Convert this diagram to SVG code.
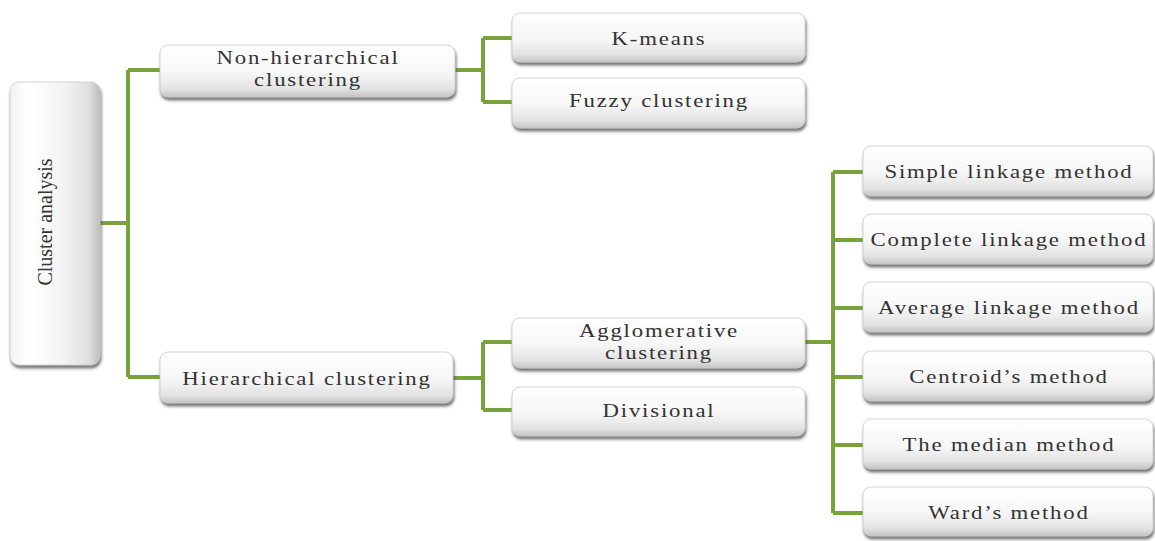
<svg xmlns="http://www.w3.org/2000/svg" width="1155" height="541" viewBox="0 0 1155 541">
<defs>
<linearGradient id="gv" x1="0" y1="0" x2="0" y2="1">
<stop offset="0" stop-color="#ffffff"/>
<stop offset="0.55" stop-color="#f6f6f6"/>
<stop offset="0.85" stop-color="#e2e2e2"/>
<stop offset="1" stop-color="#c4c4c4"/>
</linearGradient>
<linearGradient id="gh" x1="0" y1="0" x2="1" y2="0">
<stop offset="0" stop-color="#f2f2f2"/>
<stop offset="0.2" stop-color="#ffffff"/>
<stop offset="0.6" stop-color="#f3f3f3"/>
<stop offset="0.88" stop-color="#dedede"/>
<stop offset="1" stop-color="#bdbdbd"/>
</linearGradient>
<filter id="sh" x="-10%" y="-20%" width="125%" height="150%">
<feDropShadow dx="1" dy="3" stdDeviation="1.8" flood-color="#444" flood-opacity="0.75"/>
</filter>
</defs>
<style>
.box{fill:url(#gv);stroke:#c9c9c9;stroke-width:0.8;filter:url(#sh)}
.vbox{fill:url(#gh);stroke:#c9c9c9;stroke-width:0.8;filter:url(#sh)}
.c{fill:none;stroke:#78a33c;stroke-width:4}
</style>
<rect width="1155" height="541" fill="#fff"/>
<g id="connectors">
<path class="c" d="M100 223H128M128 70V377M128 70H160M128 377H160"/>
<path class="c" d="M455 70H483M483 38V102M483 38H512M483 102H512"/>
<path class="c" d="M453 378H483M483 342V410M483 342H512M483 410H512"/>
<path class="c" d="M805 342H833M833 172V513M833 172H863M833 240H863M833 308H863M833 377H863M833 445H863M833 513H863"/>
</g>
<g font-family="'Liberation Serif', 'Times New Roman', serif" font-size="19" text-anchor="middle" fill="#333">
<g id="cluster-analysis">
<rect class="vbox" x="10" y="82" width="90" height="283" rx="9"/>
<text transform="translate(52,222) rotate(-90)" font-size="20">Cluster analysis</text>
</g>
<g id="non-hierarchical">
<rect class="box" x="160" y="45" width="295" height="52" rx="8"/>
<g transform="translate(308,0) scale(1.2,1)"><text x="0" y="64" letter-spacing="1.5">Non-hierarchical</text><text x="0" y="86" letter-spacing="1.5">clustering</text></g>
</g>
<g id="hierarchical">
<rect class="box" x="160" y="352" width="293" height="51" rx="8"/>
<g transform="translate(307,0) scale(1.2,1)"><text x="0" y="385" letter-spacing="1.5">Hierarchical clustering</text></g>
</g>
<g id="k-means">
<rect class="box" x="512" y="13" width="293" height="49" rx="8"/>
<g transform="translate(659,0) scale(1.2,1)"><text x="0" y="45" letter-spacing="1.5">K-means</text></g>
</g>
<g id="fuzzy">
<rect class="box" x="512" y="78" width="293" height="50" rx="8"/>
<g transform="translate(659,0) scale(1.2,1)"><text x="0" y="107" letter-spacing="1.5">Fuzzy clustering</text></g>
</g>
<g id="agglomerative">
<rect class="box" x="512" y="318" width="293" height="50" rx="8"/>
<g transform="translate(659,0) scale(1.2,1)"><text x="0" y="337" letter-spacing="1.5">Agglomerative</text><text x="0" y="359" letter-spacing="1.5">clustering</text></g>
</g>
<g id="divisional">
<rect class="box" x="512" y="387" width="293" height="49" rx="8"/>
<g transform="translate(659,0) scale(1.2,1)"><text x="0" y="417" letter-spacing="1.5">Divisional</text></g>
</g>
<g id="simple-linkage">
<rect class="box" x="863" y="146" width="290" height="50" rx="8"/>
<g transform="translate(1009,0) scale(1.2,1)"><text x="0" y="178" letter-spacing="1.5">Simple linkage method</text></g>
</g>
<g id="complete-linkage">
<rect class="box" x="863" y="214" width="290" height="50" rx="8"/>
<g transform="translate(1009,0) scale(1.2,1)"><text x="0" y="246" letter-spacing="1.5">Complete linkage method</text></g>
</g>
<g id="average-linkage">
<rect class="box" x="863" y="282" width="290" height="50" rx="8"/>
<g transform="translate(1009,0) scale(1.2,1)"><text x="0" y="314" letter-spacing="1.5">Average linkage method</text></g>
</g>
<g id="centroid">
<rect class="box" x="863" y="351" width="290" height="50" rx="8"/>
<g transform="translate(1009,0) scale(1.2,1)"><text x="0" y="383" letter-spacing="1.5">Centroid’s method</text></g>
</g>
<g id="median">
<rect class="box" x="863" y="419" width="290" height="50" rx="8"/>
<g transform="translate(1009,0) scale(1.2,1)"><text x="0" y="451" letter-spacing="1.5">The median method</text></g>
</g>
<g id="ward">
<rect class="box" x="863" y="487" width="290" height="49" rx="8"/>
<g transform="translate(1009,0) scale(1.2,1)"><text x="0" y="519" letter-spacing="1.5">Ward’s method</text></g>
</g>
</g>
</svg>
